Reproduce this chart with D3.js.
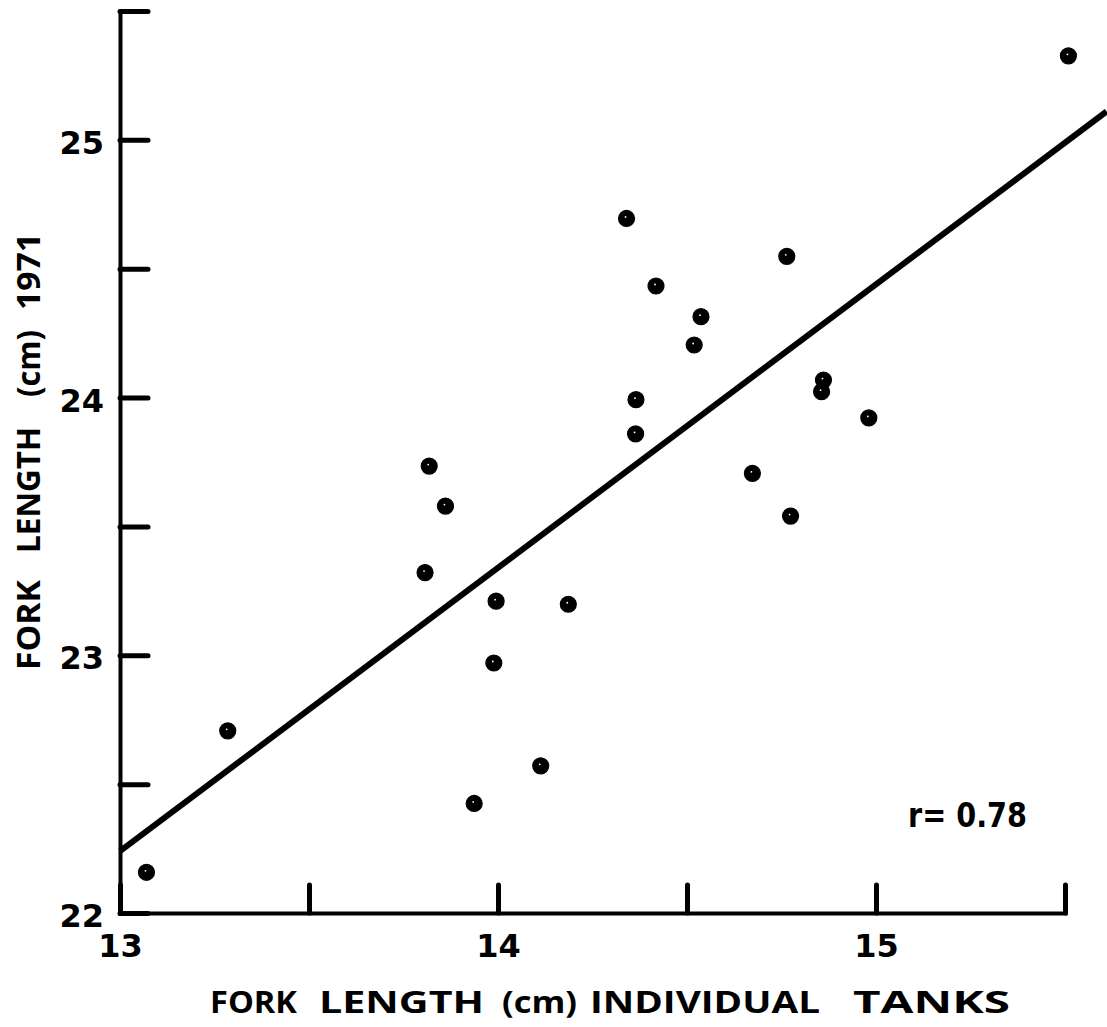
<!DOCTYPE html>
<html>
<head>
<meta charset="utf-8">
<script src="https://cdn.jsdelivr.net/npm/d3@7"></script>
<style>
  html, body { margin: 0; padding: 0; background: #fff; }
  svg { display: block; }
</style>
</head>
<body>
<script>
// Fork length of individual tanks (cm) vs fork length 1971 (cm)
const tankFL = [13.070, 13.285, 13.818, 13.861, 13.807, 13.995, 13.989, 13.937, 14.113, 14.186,
                14.340, 14.418, 14.365, 14.364, 14.537, 14.519, 14.764, 14.673, 14.774, 14.861,
                14.856, 14.981, 15.509];
const fl1971 = [22.158, 22.707, 23.734, 23.579, 23.321, 23.210, 22.970, 22.425, 22.571, 23.198,
                24.695, 24.433, 23.992, 23.859, 24.314, 24.204, 24.548, 23.706, 23.540, 24.068,
                24.023, 23.921, 25.326];

// Fitted regression line end points
const fitX = [13.0, 15.61];
const fitY = [22.24, 25.11];

const xTicks = [13, 13.5, 14, 14.5, 15, 15.5];
const yTicks = [22, 22.5, 23, 23.5, 24, 24.5, 25, 25.5];
const corrLabel = "r= 0.78";

const xTitleWords = ["FORK", "LENGTH", "(cm)", "INDIVIDUAL", "TANKS"];
const yTitleWords = ["FORK", "LENGTH", "(cm)", "1971"];

const W = 1107, H = 1027;
const svg = d3.select("body").append("svg").attr("width", W).attr("height", H);

const x = d3.scaleLinear().domain([13, 15.5]).range([120, 1065]);
const y = d3.scaleLinear().domain([22, 25.5]).range([913, 11]);

const ink = "#000";

// Axes with inward ticks
const xAxis = d3.axisBottom(x).tickValues(xTicks)
  .tickSizeInner(-28).tickSizeOuter(0).tickPadding(20)
  .tickFormat(d => Number.isInteger(d) ? d3.format("d")(d) : "");
const yAxis = d3.axisLeft(y).tickValues(yTicks)
  .tickSizeInner(-28).tickSizeOuter(0).tickPadding(16)
  .tickFormat(d => Number.isInteger(d) ? d3.format("d")(d) : "");

const gx = svg.append("g").attr("transform", `translate(0,${y(22)})`).call(xAxis);
const gy = svg.append("g").attr("transform", `translate(${x(13)},0)`).call(yAxis);

[gx, gy].forEach(g => {
  g.select(".domain").attr("stroke", ink).attr("stroke-width", 4).attr("stroke-linecap", "square");
  g.selectAll(".tick line").attr("stroke", ink).attr("stroke-width", 5).attr("stroke-linecap", "round");
  g.selectAll(".tick text")
    .attr("fill", ink)
    .style("font-family", "'DejaVu Sans', sans-serif")
    .style("font-weight", "bold")
    .style("font-size", "32px");
});
gy.selectAll(".tick text").attr("dy", "0.42em");
gx.selectAll(".tick text").attr("dy", "0.74em");

// Regression line
svg.append("line")
  .attr("x1", x(fitX[0])).attr("y1", y(fitY[0]))
  .attr("x2", x(fitX[1])).attr("y2", y(fitY[1]))
  .attr("stroke", ink).attr("stroke-width", 6).attr("stroke-linecap", "butt");

// Data points
const pts = tankFL.map((v, i) => ({ fx: v, fy: fl1971[i] }));
const dots = svg.append("g");
dots.selectAll("circle.pt").data(pts).join("circle")
  .attr("class", "pt")
  .attr("cx", d => x(d.fx)).attr("cy", d => y(d.fy))
  .attr("r", 8)
  .attr("fill", ink).attr("stroke", ink).attr("stroke-width", 1.2);
dots.selectAll("circle.hl").data(pts).join("circle")
  .attr("class", "hl")
  .attr("cx", d => x(d.fx) - 1).attr("cy", d => y(d.fy) - 1.5)
  .attr("r", 0.9)
  .attr("fill", "#fff");

// Correlation label
svg.append("text")
  .attr("x", 908).attr("y", 827)
  .attr("fill", ink)
  .style("font-family", "'DejaVu Sans', sans-serif")
  .style("font-weight", "bold")
  .style("font-size", "33px")
  .attr("textLength", 119).attr("lengthAdjust", "spacingAndGlyphs")
  .text(corrLabel);

// Axis titles, word by word
const titleFont = "'Open Sans', 'DejaVu Sans', sans-serif";
const xWordSpans = [[210, 297], [319, 484], [502, 577], [590, 820], [853, 1010]];
svg.append("g").selectAll("text").data(xTitleWords).join("text")
  .attr("x", (d, i) => xWordSpans[i][0])
  .attr("y", 1013)
  .attr("textLength", (d, i) => xWordSpans[i][1] - xWordSpans[i][0])
  .attr("lengthAdjust", "spacingAndGlyphs")
  .attr("fill", ink)
  .style("font-family", titleFont)
  .style("font-weight", "bold")
  .style("font-size", "31px")
  .text(d => d);

const yWordSpans = [[670, 580], [553, 427], [397, 330], [310, 233]];
svg.append("g").selectAll("text").data(yTitleWords).join("text")
  .attr("transform", (d, i) => `translate(40,${yWordSpans[i][0]}) rotate(-90)`)
  .attr("textLength", (d, i) => yWordSpans[i][0] - yWordSpans[i][1])
  .attr("lengthAdjust", "spacingAndGlyphs")
  .attr("fill", ink)
  .style("font-family", titleFont)
  .style("font-weight", "bold")
  .style("font-size", "33px")
  .text(d => d);
</script>
</body>
</html>
